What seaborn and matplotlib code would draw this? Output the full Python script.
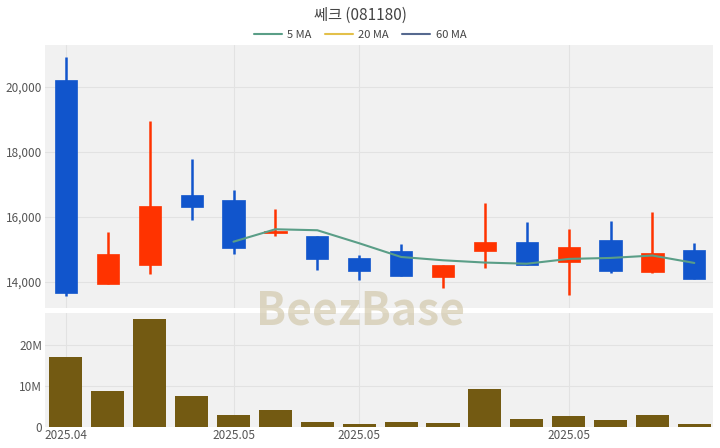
import numpy as np
import pandas as pd
import seaborn as sns
import matplotlib.pyplot as plt
from matplotlib.lines import Line2D
from matplotlib.ticker import FuncFormatter

# daily candles
opens = [20200, 13920, 14500, 16670, 16500, 15500, 15400, 14740,
         14950, 14150, 14950, 15210, 14620, 15280, 14290, 14980]
highs = [20900, 15520, 18950, 17780, 16820, 16250, 15400, 14820,
         15160, 14520, 16410, 15830, 15620, 15860, 16150, 15190]
lows = [13560, 13920, 14250, 15900, 14850, 15400, 14350, 14050,
        14180, 13800, 14410, 14510, 13590, 14260, 14260, 14070]
closes = [13650, 14850, 16330, 16290, 15030, 15560, 14700, 14330,
          14180, 14520, 15210, 14520, 15070, 14330, 14890, 14070]
volumes = [16.9, 8.7, 26.2, 7.4, 2.8, 4.0, 1.2, 0.7,
           1.2, 1.0, 9.1, 2.0, 2.6, 1.7, 2.9, 0.7]  # millions

tick_pos = [0, 4, 7, 12]
tick_labels = ['2025.04', '2025.05', '2025.05', '2025.05']

df = pd.DataFrame({'idx': np.arange(len(opens)), 'open': opens, 'high': highs,
                   'low': lows, 'close': closes, 'vol': np.array(volumes) * 1e6})
df['ma5'] = df['close'].rolling(5).mean()

up_c = '#ff3300'
down_c = '#1155cc'
vol_c = '#735a12'
ma_colors = {'5 MA': '#5a9e87', '20 MA': '#e3c04a', '60 MA': '#56698f'}

sns.set_style('whitegrid', {'axes.facecolor': '#f1f1f1', 'grid.color': '#e2e2e2'})
plt.rcParams['font.family'] = ['Noto Sans CJK KR', 'DejaVu Sans']

fig = plt.figure(figsize=(7.2, 4.48), dpi=100)
ax = fig.add_axes([0.0625, 0.3125, 0.928, 0.587])
axv = fig.add_axes([0.0625, 0.0475, 0.928, 0.2545])

# candles
colors = [up_c if c >= o else down_c for o, c in zip(df['open'], df['close'])]
ax.vlines(df['idx'], df['low'], df['high'], colors=colors, linewidth=1.8, zorder=2)
ax.bar(df['idx'], (df['close'] - df['open']).abs(), bottom=df[['open', 'close']].min(axis=1),
       width=0.53, color=colors, edgecolor=colors, linewidth=0.5, zorder=3)
sns.lineplot(data=df, x='idx', y='ma5', color=ma_colors['5 MA'], linewidth=1.5, ax=ax, zorder=4)

ax.set_xlim(-0.5, 15.45)
ax.set_ylim(13190, 21280)
ax.set_yticks([14000, 16000, 18000, 20000])
ax.yaxis.set_major_formatter(FuncFormatter(lambda v, p: f'{int(v):,}'))
ax.set_xticks(tick_pos)
ax.set_xticklabels([])
ax.set_xlabel('')
ax.set_ylabel('')

# volume
sns.barplot(data=df, x='idx', y='vol', color=vol_c, width=0.79, saturation=1,
            linewidth=0, ax=axv, zorder=3)
axv.set_xlim(-0.5, 15.45)
axv.set_ylim(0, 27.8e6)
axv.set_yticks([0, 10e6, 20e6])
axv.set_yticklabels(['0', '10M', '20M'])
axv.set_xticks(tick_pos)
axv.set_xticklabels(tick_labels)
axv.set_xlabel('')
axv.set_ylabel('')

for a in (ax, axv):
    for s in a.spines.values():
        s.set_visible(False)
    a.tick_params(length=0, labelsize=8.5, colors='#555555', pad=2)
    a.grid(True, color='#e2e2e2', linewidth=0.8)
    a.set_axisbelow(True)

# watermark
fig.text(0.5, 0.305, 'BeezBase', ha='center', va='center', fontsize=32,
         fontweight='bold', color='#c9bd98', alpha=0.55, zorder=10)

fig.suptitle('쎄크 (081180)', y=0.985, fontsize=11, color='#444444')
handles = [Line2D([0], [0], color=c, linewidth=1.5) for c in ma_colors.values()]
fig.legend(handles, list(ma_colors.keys()), loc='upper center', bbox_to_anchor=(0.5, 0.955),
           ncol=3, frameon=False, fontsize=8, handlelength=2.5, columnspacing=1.2,
           handletextpad=0.5, labelcolor='#444444')

fig.savefig('out.png', dpi=100)
